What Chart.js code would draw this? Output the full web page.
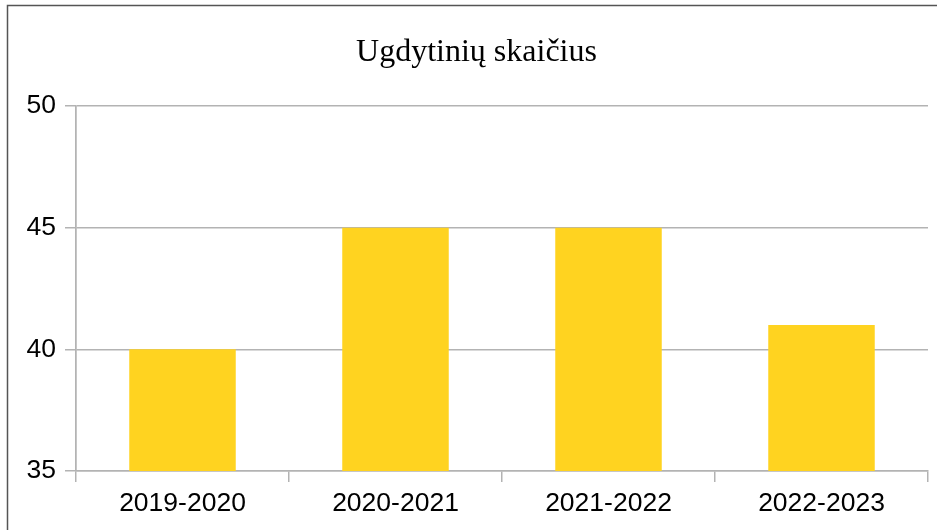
<!DOCTYPE html>
<html>
<head>
<meta charset="utf-8">
<script src="https://cdn.jsdelivr.net/npm/chart.js@4/dist/chart.umd.min.js"></script>
<style>
  html, body { margin: 0; padding: 0; background: #fff; }
  #chart { display: block; }
</style>
</head>
<body>
<canvas id="chart" width="937" height="530"></canvas>
<script>
// data
const seasons = ['2019-2020', '2020-2021', '2021-2022', '2022-2023'];
const pupils = [40, 45, 45, 41];
const yTicks = [35, 40, 45, 50];

const gridGray = '#b3b3b3';

// white page + the dark frame around the whole chart
const frame = {
    id: 'frame',
    beforeDraw: function(chart) {
        const ctx = chart.ctx;
        ctx.save();
        ctx.fillStyle = '#fff';
        ctx.fillRect(0, 0, chart.width, chart.height);
        ctx.strokeStyle = '#555';
        ctx.lineWidth = 1.5;
        ctx.strokeRect(7.5, 5.5, chart.width + 20, chart.height + 20);
        ctx.restore();
    }
};

new Chart(document.getElementById('chart').getContext('2d'), {
    type: 'bar',
    data: {
        labels: seasons,
        datasets: [{
            label: 'Ugdytinių skaičius',
            data: pupils,
            backgroundColor: '#ffd320',
            borderWidth: 0,
            barPercentage: 0.5,
            categoryPercentage: 1
        }]
    },
    options: {
        responsive: false,
        animation: false,
        layout: { padding: { left: 25, right: 9, top: 0, bottom: 0 } },
        plugins: {
            legend: { display: false },
            tooltip: { enabled: false },
            title: {
                display: true,
                text: 'Ugdytinių skaičius',
                color: '#000',
                font: { family: 'Liberation Serif', size: 32, weight: 'normal' },
                padding: { top: 33, bottom: 34.6 }
            }
        },
        scales: {
            x: {
                grid: {
                    offset: true,
                    color: function(c) {
                        return (c.index === 0 || c.index === seasons.length) ? gridGray : 'rgba(0,0,0,0)';
                    },
                    tickColor: gridGray,
                    tickLength: 11,
                    lineWidth: 1.5
                },
                border: { color: gridGray, width: 1.5 },
                ticks: {
                    color: '#000',
                    padding: 6,
                    font: { family: 'Liberation Sans', size: 26.5 }
                },
                afterFit: function(scale) { scale.height = 59; }
            },
            y: {
                min: 35,
                max: 50,
                afterBuildTicks: function(scale) {
                    scale.ticks = yTicks.map(v => ({ value: v }));
                },
                grid: {
                    color: gridGray,
                    tickLength: 11,
                    lineWidth: 1.5
                },
                border: { color: gridGray, width: 1.5 },
                ticks: {
                    color: '#000',
                    padding: 9,
                    font: { family: 'Liberation Sans', size: 26.5 }
                },
                afterFit: function(scale) { scale.width = 51; }
            }
        }
    },
    plugins: [frame]
});
</script>
</body>
</html>
